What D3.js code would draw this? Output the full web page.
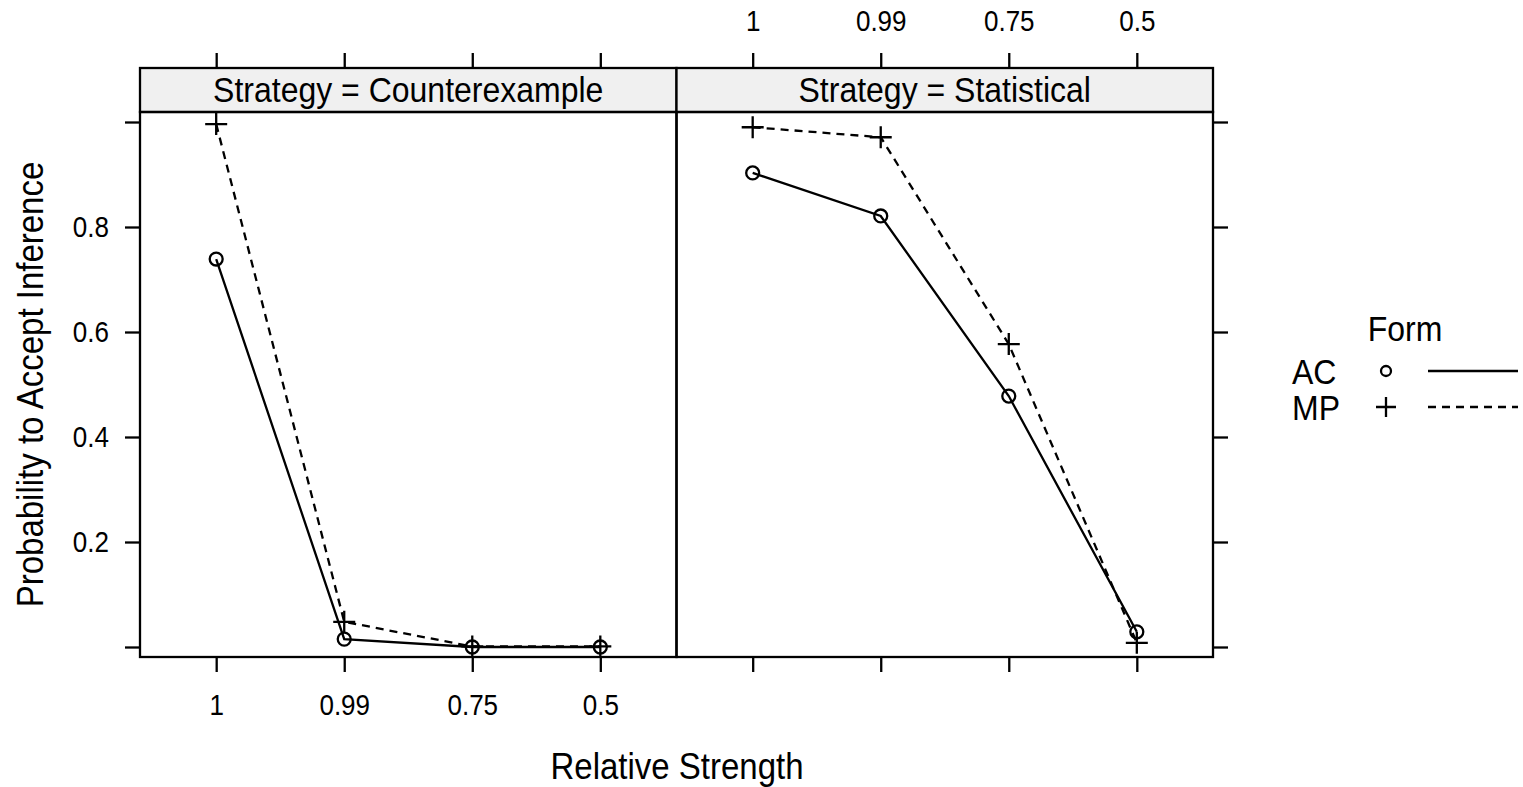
<!DOCTYPE html>
<html>
<head>
<meta charset="utf-8">
<script src="https://cdn.jsdelivr.net/npm/d3@7"></script>
<style>
  body { margin: 0; background: #fff; }
  svg text { font-family: "Liberation Sans", Arial, sans-serif; fill: #000; }
  svg text:not(.rot) {
    transform-box: fill-box; transform-origin: center; transform: scaleY(1.1);
  }
</style>
</head>
<body>
<svg id="chart" width="1523" height="787"></svg>
<script>
// 데이터
const strengths = ["1", "0.99", "0.75", "0.5"];
const strategies = ["Counterexample", "Statistical"];
const forms = ["AC", "MP"];
const acCounterexample = [0.739, 0.015, 0.0, 0.0];
const mpCounterexample = [0.996, 0.048, 0.001, 0.001];
const acStatistical = [0.903, 0.821, 0.478, 0.029];
const mpStatistical = [0.990, 0.971, 0.577, 0.008];
const yTicks = [0, 0.2, 0.4, 0.6, 0.8, 1.0];

const series = {
    Counterexample: { AC: acCounterexample, MP: mpCounterexample },
    Statistical: { AC: acStatistical, MP: mpStatistical }
};

const svg = d3.select('#chart');

// 패널 배치
const panelTop = 112, panelBottom = 657, stripTop = 68;
const panelX = d3.scaleBand().domain(strategies).range([140, 1213]);

const y = d3.scaleLinear().domain([0, 1]).range([647, 122]);

const dashes = { AC: null, MP: '8,6' };
const lw = 2.3;

function styleAxis(a) {
    a.select('.domain').remove();
    a.selectAll('line').attr('stroke', '#000').attr('stroke-width', lw);
    a.selectAll('text').attr('font-size', '26px').attr('fill', '#000')
        .style('font-family', '"Liberation Sans", Arial, sans-serif');
}

strategies.forEach((strat, i) => {
    const x0 = panelX(strat), x1 = x0 + panelX.bandwidth();
    const x = d3.scalePoint().domain(strengths).range([x0, x1]).padding(0.595);
    const g = svg.append('g');

    // 스트립
    g.append('rect')
        .attr('x', x0).attr('y', stripTop)
        .attr('width', x1 - x0).attr('height', panelTop - stripTop)
        .attr('fill', '#f0f0f0').attr('stroke', '#000').attr('stroke-width', lw);
    g.append('text')
        .attr('x', (x0 + x1) / 2).attr('y', 101)
        .attr('text-anchor', 'middle')
        .attr('font-size', '32px')
        .text(`Strategy = ${strat}`);

    // 패널 테두리
    g.append('rect')
        .attr('x', x0).attr('y', panelTop)
        .attr('width', x1 - x0).attr('height', panelBottom - panelTop)
        .attr('fill', 'none').attr('stroke', '#000').attr('stroke-width', lw);

    // 아래 축
    const bottom = g.append('g')
        .attr('transform', `translate(0,${panelBottom})`)
        .call(d3.axisBottom(x).tickSizeInner(15).tickSizeOuter(0).tickPadding(24)
            .tickFormat(i === 0 ? d => d : () => ''));
    // 위 축
    const top = g.append('g')
        .attr('transform', `translate(0,${stripTop})`)
        .call(d3.axisTop(x).tickSizeInner(15).tickSizeOuter(0).tickPadding(23)
            .tickFormat(i === 1 ? d => d : () => ''));
    styleAxis(bottom);
    styleAxis(top);

    // 선과 점
    forms.forEach(f => {
        const vals = series[strat][f];
        const line = d3.line().x((d, k) => x(strengths[k])).y(d => y(d));
        g.append('path')
            .datum(vals)
            .attr('d', line)
            .attr('fill', 'none')
            .attr('stroke', '#000')
            .attr('stroke-width', lw)
            .attr('stroke-dasharray', dashes[f]);
        g.selectAll(null)
            .data(vals)
            .enter()
            .append('path')
            .attr('transform', (d, k) => `translate(${x(strengths[k])},${y(d)})`)
            .attr('d', f === 'AC'
                ? d3.symbol().type(d3.symbolCircle).size(Math.PI * 42)
                : 'M-11,0H11M0,-11V11')
            .attr('fill', 'none')
            .attr('stroke', '#000')
            .attr('stroke-width', lw);
    });
});

// 왼쪽 / 오른쪽 y 축
const left = svg.append('g')
    .attr('transform', 'translate(140,0)')
    .call(d3.axisLeft(y).tickValues(yTicks).tickSizeInner(15).tickSizeOuter(0).tickPadding(16)
        .tickFormat(d => (d > 0 && d < 1) ? d3.format('.1f')(d) : ''));
const right = svg.append('g')
    .attr('transform', 'translate(1213,0)')
    .call(d3.axisRight(y).tickValues(yTicks).tickSizeInner(15).tickSizeOuter(0).tickFormat(() => ''));
styleAxis(left);
styleAxis(right);

// 축 제목
svg.append('text')
    .attr('x', 677).attr('y', 778)
    .attr('text-anchor', 'middle')
    .attr('font-size', '33px')
    .text('Relative Strength');
svg.append('text')
    .attr('class', 'rot')
    .attr('transform', `translate(43,${(panelTop + panelBottom) / 2}) rotate(-90) scale(1,1.1)`)
    .attr('text-anchor', 'middle')
    .attr('font-size', '33px')
    .text('Probability to Accept Inference');

// 범례
const legend = svg.append('g');
legend.append('text')
    .attr('x', 1405).attr('y', 340)
    .attr('text-anchor', 'middle')
    .attr('font-size', '32px')
    .text('Form');
const legendY = d3.scalePoint().domain(forms).range([371, 407]);
forms.forEach(f => {
    const ly = legendY(f);
    legend.append('text')
        .attr('x', 1292).attr('y', ly + 12)
        .attr('font-size', '32px')
        .text(f);
    legend.append('path')
        .attr('transform', `translate(1386,${ly})`)
        .attr('d', f === 'AC'
            ? d3.symbol().type(d3.symbolCircle).size(Math.PI * 25)
            : 'M-10,0H10M0,-10V10')
        .attr('fill', 'none').attr('stroke', '#000').attr('stroke-width', lw);
    legend.append('line')
        .attr('x1', 1428).attr('x2', 1518)
        .attr('y1', ly).attr('y2', ly)
        .attr('stroke', '#000').attr('stroke-width', lw)
        .attr('stroke-dasharray', dashes[f]);
});
</script>
</body>
</html>
